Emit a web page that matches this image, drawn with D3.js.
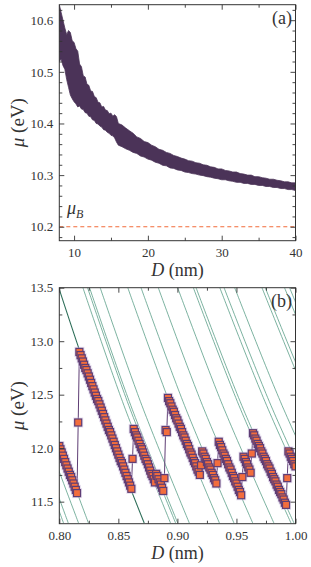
<!DOCTYPE html>
<html>
<head>
<meta charset="utf-8">
<script src="https://cdn.jsdelivr.net/npm/d3@7"></script>
<style>
  body { margin: 0; background: #fff; }
  svg { display: block; }
  .axis path { display: none; }
  .axis line { stroke: #333; stroke-width: 0.9; }
  .axis text { font-family: "Liberation Serif", "Tinos", "Times New Roman", serif; font-size: 13px; fill: #333; }
</style>
</head>
<body>
<div id="chart-area"></div>
<script>
const bandD = [8.0, 8.25, 8.5, 8.75, 9.0, 9.25, 9.5, 9.75, 10.0, 10.25, 10.5, 10.75, 11.0, 11.25, 11.5, 11.75,
  12.0, 12.25, 12.5, 12.75, 13.0, 13.25, 13.5, 13.75, 14.0, 14.25, 14.5, 14.75, 15.0, 15.25, 15.5, 15.75, 16.0,
  16.5, 17.0, 17.5, 18.0, 18.5, 19.0, 19.5, 20.0, 20.5, 21.0, 21.5, 22.0, 22.5, 23.0, 23.5, 24.0,
  24.5, 25.0, 25.5, 26.0, 26.5, 27.0, 27.5, 28.0, 28.5, 29.0, 29.5, 30.0, 30.5, 31.0, 31.5, 32.0,
  32.5, 33.0, 33.5, 34.0, 34.5, 35.0, 35.5, 36.0, 36.5, 37.0, 37.5, 38.0, 38.5, 39.0, 39.5, 40.0]
const bandHi = [10.63, 10.615, 10.60, 10.585, 10.572, 10.580, 10.576, 10.560, 10.557, 10.545, 10.540, 10.515,
  10.510, 10.492, 10.490, 10.476, 10.474, 10.463, 10.462, 10.452, 10.450, 10.441, 10.440, 10.432, 10.433,
  10.426, 10.425, 10.419, 10.420, 10.414, 10.417, 10.413, 10.400,
  10.397, 10.391, 10.386, 10.381, 10.374, 10.371, 10.365, 10.363, 10.358, 10.355, 10.350, 10.348, 10.344,
  10.342, 10.338, 10.336, 10.333, 10.331, 10.328, 10.327, 10.324, 10.323, 10.320, 10.319, 10.316, 10.315,
  10.312, 10.312, 10.309, 10.308, 10.306, 10.306, 10.303, 10.302, 10.300, 10.300, 10.297, 10.297, 10.295,
  10.294, 10.292, 10.292, 10.290, 10.289, 10.287, 10.287, 10.285, 10.285]
const bandLo = [10.52, 10.525, 10.512, 10.505, 10.485, 10.47, 10.455, 10.448, 10.442, 10.438, 10.432, 10.434,
  10.428, 10.427, 10.421, 10.420, 10.414, 10.413, 10.407, 10.406, 10.400, 10.399, 10.395, 10.393, 10.388,
  10.387, 10.383, 10.381, 10.377, 10.376, 10.372, 10.364, 10.358,
  10.355, 10.351, 10.348, 10.344, 10.342, 10.337, 10.335, 10.331, 10.329, 10.325, 10.323, 10.319, 10.318,
  10.314, 10.313, 10.310, 10.309, 10.306, 10.305, 10.303, 10.302, 10.300, 10.299, 10.297, 10.296, 10.294,
  10.293, 10.291, 10.291, 10.289, 10.288, 10.286, 10.286, 10.284, 10.284, 10.282, 10.282, 10.280, 10.280,
  10.278, 10.278, 10.276, 10.276, 10.274, 10.274, 10.272, 10.272, 10.270]
const muBulk = 10.2

// ---- panel (b): mu at D = 0.800 ... 1.000 nm, step 0.001 ----
const dStep = d3.range(201).map(function(i) { return +(0.8 + i * 0.001).toFixed(3) })
const muStep = [
  12.02, 11.99, 11.96, 11.93, 11.90, 11.87, 11.84, 11.81, 11.78, 11.75, 11.73, 11.70, 11.67, 11.64, 11.61, 11.58,
  12.24,
  12.90, 12.87, 12.84, 12.81, 12.78, 12.75, 12.73, 12.70, 12.67, 12.64,
  12.61, 12.58, 12.55, 12.52, 12.49, 12.46, 12.44, 12.41, 12.38, 12.35,
  12.32, 12.29, 12.26, 12.23, 12.20, 12.17, 12.15, 12.12, 12.09, 12.06,
  12.03, 12.00, 11.97, 11.94, 11.91, 11.88, 11.86, 11.83, 11.80, 11.77,
  11.74, 11.71, 11.68, 11.65, 11.62,
  11.90,
  12.18, 12.15, 12.12, 12.10, 12.07, 12.04, 12.01, 11.99, 11.96, 11.93,
  11.90, 11.88, 11.85, 11.82, 11.79, 11.76, 11.74, 11.71, 11.68,
  11.76, 11.74, 11.71, 11.68, 11.66, 11.63, 11.60,
  11.72, 12.17, 12.15,
  12.47, 12.44, 12.42, 12.39, 12.36, 12.34, 12.31, 12.28, 12.26, 12.23,
  12.20, 12.18, 12.15, 12.12, 12.10, 12.07, 12.04, 12.02, 11.99, 11.96,
  11.94, 11.91, 11.88, 11.86, 11.83, 11.80, 11.78, 11.75,
  11.84,
  11.97, 11.95, 11.92, 11.90, 11.87, 11.85, 11.82, 11.80, 11.77, 11.75, 11.72, 11.70, 11.67,
  11.86,
  12.06, 12.03, 12.01, 11.98, 11.95, 11.93, 11.90, 11.88, 11.85, 11.82,
  11.80, 11.77, 11.74, 11.72, 11.69, 11.67, 11.64, 11.61, 11.59, 11.56,
  11.73,
  11.92, 11.90, 11.87, 11.85, 11.82, 11.80, 11.77,
  11.95,
  12.14, 12.12, 12.09, 12.07, 12.04, 12.02, 12.00, 11.97, 11.95, 11.92,
  11.90, 11.88, 11.85, 11.83, 11.81, 11.78, 11.76, 11.73, 11.71, 11.69,
  11.66, 11.64, 11.61, 11.59, 11.57, 11.54, 11.52, 11.49, 11.47,
  11.72,
  11.97, 11.95, 11.92, 11.90, 11.88, 11.85, 11.83
]

// green levels: D (nm) where each level crosses mu = 13.5, 12.4 and 11.3 eV
const levelMu = [13.5, 12.4, 11.3]
const levelTop = [0.7369, 0.7406, 0.7481, 0.7563, 0.7995, 0.8200, 0.8239, 0.8256, 0.8346, 0.8580, 0.8692,
  0.8838, 0.9002, 0.9135, 0.9158, 0.9359, 0.9395, 0.9485, 0.9716, 0.9744, 0.9907, 0.9950]
const levelMid = [0.7681, 0.7719, 0.7797, 0.7883, 0.8333, 0.8547, 0.8588, 0.8605, 0.8699, 0.8943, 0.9060,
  0.9212, 0.9383, 0.9521, 0.9545, 0.9755, 0.9792, 0.9886, 1.0127, 1.0156, 1.0326, 1.0371]
const levelBot = [0.8036, 0.8076, 0.8163, 0.8247, 0.8719, 0.8942, 0.8985, 0.9003, 0.9101, 0.9356, 0.9479,
  0.9638, 0.9817, 0.9962, 0.9987, 1.0206, 1.0245, 1.0343, 1.0595, 1.0626, 1.0804, 1.0851]

const SERIF = '"Liberation Serif", "Tinos", "Times New Roman", serif'
const W = 311, H = 567
const LEFT = 59.3, RIGHT = 295.5

const svg = d3.select("#chart-area").append("svg")
  .attr("width", W)
  .attr("height", H)

function frame(opts) {
  const g = svg.append("g")
  const x = d3.scaleLinear().domain(opts.xDomain).range([LEFT, RIGHT])
  const y = d3.scaleLinear().domain(opts.yDomain).range([opts.bottom, opts.top])

  g.append("clipPath").attr("id", opts.id)
    .append("rect")
    .attr("x", LEFT).attr("y", opts.top)
    .attr("width", RIGHT - LEFT).attr("height", opts.bottom - opts.top)

  const plot = g.append("g").attr("clip-path", "url(#" + opts.id + ")")

  // axes with inward ticks, mirrored on top / right
  g.append("g").attr("class", "axis")
    .attr("transform", "translate(0," + opts.bottom + ")")
    .call(d3.axisBottom(x).tickValues(opts.xMajor).tickSize(-5).tickPadding(7).tickFormat(opts.xFormat))
  g.append("g").attr("class", "axis")
    .attr("transform", "translate(0," + opts.bottom + ")")
    .call(d3.axisBottom(x).tickValues(opts.xMinor).tickSize(-3).tickFormat(""))
  g.append("g").attr("class", "axis")
    .attr("transform", "translate(0," + opts.top + ")")
    .call(d3.axisTop(x).tickValues(opts.xMajor).tickSize(-5).tickFormat(""))
  g.append("g").attr("class", "axis")
    .attr("transform", "translate(0," + opts.top + ")")
    .call(d3.axisTop(x).tickValues(opts.xMinor).tickSize(-3).tickFormat(""))

  g.append("g").attr("class", "axis")
    .attr("transform", "translate(" + LEFT + ",0)")
    .call(d3.axisLeft(y).tickValues(opts.yMajor).tickSize(-5).tickPadding(6).tickFormat(opts.yFormat))
  g.append("g").attr("class", "axis")
    .attr("transform", "translate(" + LEFT + ",0)")
    .call(d3.axisLeft(y).tickValues(opts.yMinor).tickSize(-3).tickFormat(""))
  g.append("g").attr("class", "axis")
    .attr("transform", "translate(" + RIGHT + ",0)")
    .call(d3.axisRight(y).tickValues(opts.yMajor).tickSize(-5).tickFormat(""))
  g.append("g").attr("class", "axis")
    .attr("transform", "translate(" + RIGHT + ",0)")
    .call(d3.axisRight(y).tickValues(opts.yMinor).tickSize(-3).tickFormat(""))

  g.append("rect")
    .attr("x", LEFT).attr("y", opts.top)
    .attr("width", RIGHT - LEFT).attr("height", opts.bottom - opts.top)
    .attr("fill", "none").attr("stroke", "#333").attr("stroke-width", 1)

  // X label
  const xl = g.append("text")
    .attr("x", (LEFT + RIGHT) / 2)
    .attr("y", opts.bottom + 35)
    .attr("text-anchor", "middle")
    .attr("font-family", SERIF).attr("font-size", "18px").attr("fill", "#333")
  xl.append("tspan").attr("font-style", "italic").text("D")
  xl.append("tspan").text(" (nm)")

  // Y label
  const yl = g.append("text")
    .attr("transform", "translate(24," + (opts.top + opts.bottom) / 2 + ") rotate(-90)")
    .attr("text-anchor", "middle")
    .attr("font-family", SERIF).attr("font-size", "19px").attr("fill", "#333")
  yl.append("tspan").attr("font-style", "italic").text("μ")
  yl.append("tspan").text(" (eV)")

  g.append("text")
    .attr("x", 292).attr("y", opts.top + 19)
    .attr("text-anchor", "end")
    .attr("font-family", SERIF).attr("font-size", "18px").attr("fill", "#333")
    .text(opts.tag)

  return { x: x, y: y, plot: plot, g: g }
}

// ---------- panel (a) ----------
const a = frame({
  id: "clipA", top: 4.7, bottom: 240.7,
  xDomain: [8, 40], yDomain: [10.173, 10.63],
  xMajor: [10, 20, 30, 40], xMinor: [15, 25, 35],
  yMajor: [10.2, 10.3, 10.4, 10.5, 10.6],
  yMinor: [10.22, 10.24, 10.26, 10.28, 10.32, 10.34, 10.36, 10.38, 10.42, 10.44, 10.46, 10.48,
    10.52, 10.54, 10.56, 10.58, 10.62, 10.18],
  xFormat: d3.format("d"), yFormat: d3.format(".1f"), tag: "(a)"
})

const bandRows = bandD.map(function(d, i) { return { d: d, hi: bandHi[i], lo: bandLo[i] } })
const band = d3.area()
  .x(function(r) { return a.x(r.d) })
  .y0(function(r) { return a.y(r.lo) })
  .y1(function(r) { return a.y(r.hi) })

a.plot.append("path")
  .datum(bandRows)
  .attr("d", band)
  .attr("fill", "#4b3358")
  .attr("stroke", "#4b3358")
  .attr("stroke-width", 0.8)
  .attr("stroke-linejoin", "miter")

a.plot.append("line")
  .attr("x1", LEFT).attr("x2", RIGHT)
  .attr("y1", a.y(muBulk)).attr("y2", a.y(muBulk))
  .attr("stroke", "#f26b3a").attr("stroke-width", 1.1)
  .attr("stroke-dasharray", "4,3")

const lb = a.g.append("text")
  .attr("x", 67).attr("y", 214)
  .attr("font-family", SERIF).attr("font-size", "18px").attr("fill", "#333")
lb.append("tspan").attr("font-style", "italic").text("μ")
lb.append("tspan").attr("font-style", "italic").attr("font-size", "12px").attr("dy", 4).text("B")

// ---------- panel (b) ----------
const b = frame({
  id: "clipB", top: 287.7, bottom: 523.7,
  xDomain: [0.8, 1.0], yDomain: [11.294, 13.5],
  xMajor: [0.8, 0.85, 0.9, 0.95, 1.0], xMinor: [0.825, 0.875, 0.925, 0.975],
  yMajor: [11.5, 12.0, 12.5, 13.0, 13.5], yMinor: [11.75, 12.25, 12.75, 13.25],
  xFormat: d3.format(".2f"), yFormat: d3.format(".1f"), tag: "(b)"
})

const levelLine = d3.line()
  .x(function(p) { return b.x(p[0]) })
  .y(function(p) { return b.y(p[1]) })
  .curve(d3.curveCatmullRom)

levelTop.forEach(function(t, i) {
  const pts = [[t, levelMu[0]], [levelMid[i], levelMu[1]], [levelBot[i], levelMu[2]]]
  b.plot.append("path")
    .attr("d", levelLine(pts))
    .attr("fill", "none")
    .attr("stroke", i === 4 ? "#2f6f5a" : "#5a9e88")
    .attr("stroke-width", i === 4 ? 1.1 : 0.8)
})

const steps = dStep.map(function(d, i) { return { d: d, mu: muStep[i] } })

b.plot.append("path")
  .datum(steps)
  .attr("d", d3.line().x(function(p) { return b.x(p.d) }).y(function(p) { return b.y(p.mu) }))
  .attr("fill", "none")
  .attr("stroke", "#5e3d74")
  .attr("stroke-width", 1)

const SQ = 7
b.plot.selectAll("rect.halo")
  .data(steps)
  .enter().append("rect")
  .attr("class", "halo")
  .attr("x", function(p) { return b.x(p.d) - SQ / 2 - 1.5 })
  .attr("y", function(p) { return b.y(p.mu) - SQ / 2 - 1.5 })
  .attr("width", SQ + 3).attr("height", SQ + 3)
  .attr("fill", "#c9b9dc").attr("opacity", 0.5)

b.plot.selectAll("rect.sq")
  .data(steps)
  .enter().append("rect")
  .attr("class", "sq")
  .attr("x", function(p) { return b.x(p.d) - SQ / 2 })
  .attr("y", function(p) { return b.y(p.mu) - SQ / 2 })
  .attr("width", SQ).attr("height", SQ)
  .attr("fill", "#f26d3d")
  .attr("stroke", "#5e3d74")
  .attr("stroke-width", 1.2)
</script>
</body>
</html>
